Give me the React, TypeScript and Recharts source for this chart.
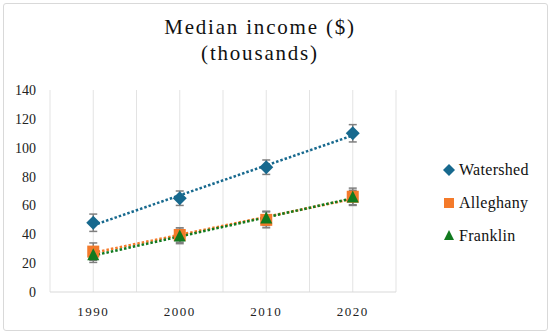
import React from "react";
import {
  ComposedChart,
  Scatter,
  Line,
  XAxis,
  YAxis,
  CartesianGrid,
  ErrorBar,
} from "recharts";

const YEARS = [1990, 2000, 2010, 2020];
const WATERSHED = [48, 65, 86.5, 110];
const ALLEGHANY = [28, 39.5, 50, 66];
const FRANKLIN = [25.5, 38.5, 51, 65.5];
const WATERSHED_ERR = [6, 5, 5, 6];
const ALLEGHANY_ERR = [6, 5, 5.5, 6];
const FRANKLIN_ERR = [5, 5, 5, 5];
const X_TICKS = [1985, 1990, 1995, 2000, 2005, 2010, 2015, 2020, 2025];
const Y_TICKS = [0, 20, 40, 60, 80, 100, 120, 140];

const SERIES = [
  { name: "Watershed", values: WATERSHED, err: WATERSHED_ERR, color: "#17698e", marker: "diamond" },
  { name: "Alleghany", values: ALLEGHANY, err: ALLEGHANY_ERR, color: "#f47a2a", marker: "square" },
  { name: "Franklin", values: FRANKLIN, err: FRANKLIN_ERR, color: "#117a1f", marker: "triangle" },
];

const FONT = "'Liberation Serif', 'DejaVu Serif', serif";

// linear trendline from the points, drawn first year to last year
function trend(values: number[]) {
  const n = YEARS.length;
  const mx = YEARS.reduce((a, b) => a + b, 0) / n;
  const my = values.reduce((a, b) => a + b, 0) / n;
  let num = 0;
  let den = 0;
  YEARS.forEach((x, i) => {
    num += (x - mx) * (values[i] - my);
    den += (x - mx) * (x - mx);
  });
  const slope = num / den;
  const first = YEARS[0];
  const last = YEARS[n - 1];
  return [
    { x: first, y: my + slope * (first - mx) },
    { x: last, y: my + slope * (last - mx) },
  ];
}

function Marker({ cx, cy, kind, color, s = 6 }: any) {
  if (kind === "diamond") {
    return (
      <polygon
        points={`${cx},${cy - s - 1} ${cx + s + 1},${cy} ${cx},${cy + s + 1} ${cx - s - 1},${cy}`}
        fill={color}
      />
    );
  }
  if (kind === "square") {
    return <rect x={cx - s} y={cy - s} width={s * 2} height={s * 2} fill={color} />;
  }
  return (
    <polygon
      points={`${cx},${cy - s - 1} ${cx + s},${cy + s - 1} ${cx - s},${cy + s - 1}`}
      fill={color}
    />
  );
}

function LegendBox() {
  return (
    <div
      style={{
        position: "absolute",
        left: 442,
        top: 153,
        fontFamily: FONT,
        fontSize: 16,
        color: "#111",
      }}
    >
      {SERIES.map((s) => (
        <div key={s.name} style={{ display: "flex", alignItems: "center", height: 33 }}>
          <svg width={14} height={14} style={{ marginRight: 3 }}>
            <Marker cx={7} cy={7} kind={s.marker} color={s.color} s={5} />
          </svg>
          <span style={{ letterSpacing: 0.3 }}>{s.name}</span>
        </div>
      ))}
    </div>
  );
}

export default function App() {
  return (
    <div style={{ position: "absolute", left: 0, top: 0, width: 550, height: 334, background: "#fff" }}>
      <div
        style={{
          position: "absolute",
          left: 3,
          top: 3,
          width: 543,
          height: 326,
          border: "1px solid #d9d9d9",
          borderRadius: 3,
        }}
      />
      <div
        style={{
          position: "absolute",
          left: 0,
          width: 520,
          top: 14,
          textAlign: "center",
          fontFamily: FONT,
          fontSize: 21,
          letterSpacing: 1.8,
          lineHeight: "26px",
          color: "#111",
        }}
      >
        Median income ($)
        <br />
        (thousands)
      </div>
      <ComposedChart
        width={550}
        height={334}
        margin={{ top: 90, right: 154, bottom: 12, left: 10 }}
        style={{ position: "absolute", left: 0, top: 0 }}
      >
        <CartesianGrid vertical horizontal={false} stroke="#e3e3e3" />
        <XAxis
          type="number"
          dataKey="x"
          domain={[1985, 2025]}
          ticks={X_TICKS}
          interval={0}
          tickFormatter={(v: number) => (v % 10 === 0 ? String(v) : "")}
          tickLine={false}
          axisLine={{ stroke: "#d9d9d9" }}
          tickMargin={9}
          height={30}
          tick={{ fill: "#222", fontFamily: FONT, fontSize: 13, letterSpacing: 1.5 }}
          allowDuplicatedCategory={false}
        />
        <YAxis
          type="number"
          domain={[0, 140]}
          ticks={Y_TICKS}
          interval={0}
          width={40}
          tickLine={false}
          axisLine={false}
          tickMargin={8}
          tick={{ fill: "#222", fontFamily: FONT, fontSize: 14 }}
        />
        {SERIES.map((s) => (
          <Line
            key={s.name + "-trend"}
            data={trend(s.values)}
            dataKey="y"
            stroke={s.color}
            strokeWidth={2.5}
            strokeDasharray="2.5 2"
            dot={false}
            activeDot={false}
            legendType="none"
            isAnimationActive={false}
          />
        ))}
        {SERIES.map((s) => (
          <Scatter
            key={s.name}
            name={s.name}
            data={YEARS.map((x, i) => ({ x, y: s.values[i], err: s.err[i] }))}
            dataKey="y"
            fill={s.color}
            isAnimationActive={false}
            shape={(p: any) => <Marker cx={p.cx} cy={p.cy} kind={s.marker} color={s.color} />}
          >
            <ErrorBar dataKey="err" direction="y" width={4} stroke="#7f7f7f" strokeWidth={1.5} />
          </Scatter>
        ))}
      </ComposedChart>
      <LegendBox />
    </div>
  );
}
